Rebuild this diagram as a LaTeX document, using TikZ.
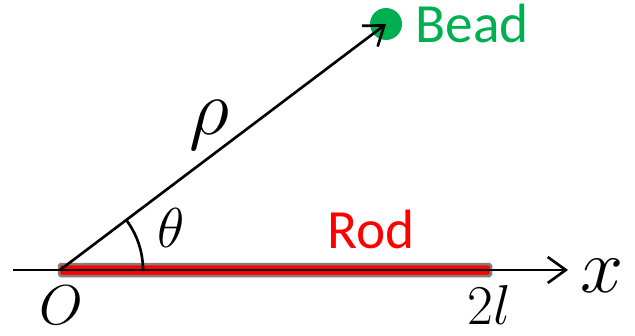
\RequirePackage{fix-cm}
\documentclass[tikz,border=0pt]{standalone}
\usepackage{fontspec}
\newfontfamily\calib{Carlito}
\usepackage{tikz}
\usetikzlibrary{arrows.meta}
\definecolor{beadgreen}{HTML}{00B050}
\definecolor{rodred}   {HTML}{FF0000}

\begin{document}
\begin{tikzpicture}[
  x=0.02cm, y=0.02cm,
  ar/.style  ={-{Straight Barb[length=3.6mm, width=5.2mm]}, line width=1.5pt},
  sym/.style ={inner sep=0pt, font=\fontsize{32}{38}\selectfont},
  word/.style={inner sep=0pt, anchor=base west,
               font=\calib\fontsize{31.5}{38}\selectfont},
  rod/.style ={draw=gray, fill=rodred, line width=0.05cm, rounded corners=1pt},
]
\useasboundingbox (0,0) rectangle (635,335);

\coordinate (O)      at (60,65);
\coordinate (xstart) at (13,65);
\coordinate (xend)   at (568,65);

\node[circle, fill=beadgreen, inner sep=0pt, minimum size=6.4mm] (bead) at (386,311) {};
\node[word, text=beadgreen] (beadlbl) at (415,292) {Bead};

% the rod on the axis
\draw[rod] (59,59) rectangle (491,71);
\node[word, text=rodred] (rodlbl) at (327,87) {Rod};

\draw[ar] (xstart) -- (xend);
\draw[ar] (O) -- (bead.center);
\draw[line width=1.5pt] ([shift={(0:83)}]O) arc[start angle=0, end angle=37, radius=83];

\node[sym] (theta) at (171,107) {$\theta$};
\node[sym, font=\fontsize{45}{50}\selectfont] (rho) at (209,210) {$\rho$};
\node[sym, font=\fontsize{32}{38}\selectfont] (orig) at (61,30) {$O$};
\node[sym] (twol) at (489,30) {$2l$};
\node[sym, font=\fontsize{44}{50}\selectfont] (xlbl) at (602,59) {$x$};

\end{tikzpicture}
\end{document}
